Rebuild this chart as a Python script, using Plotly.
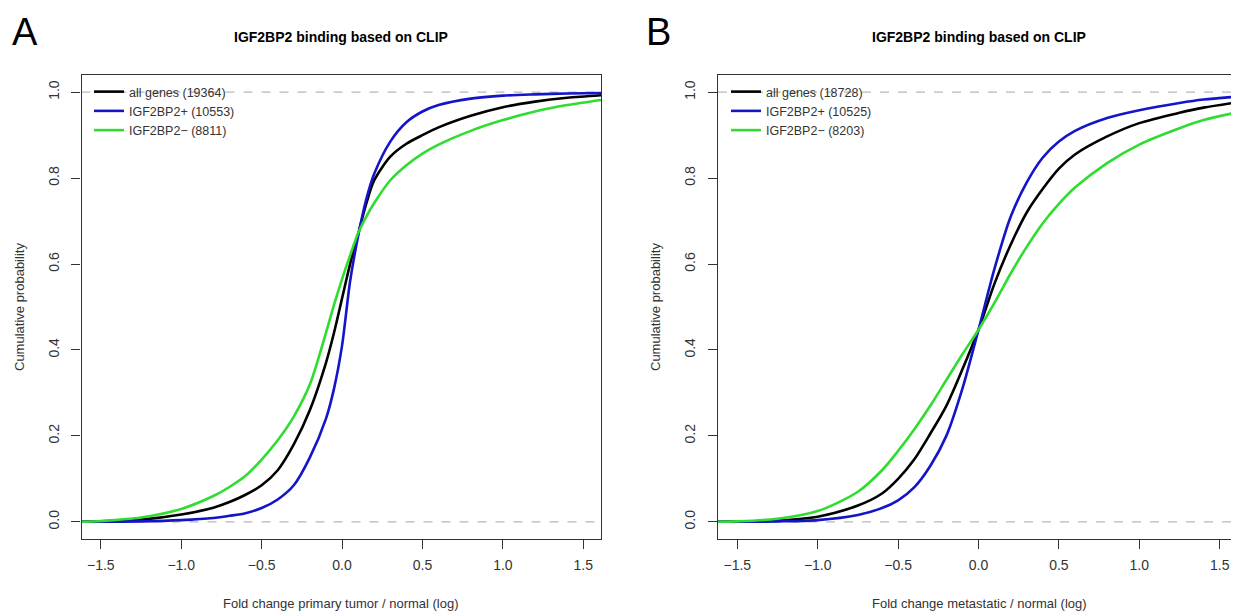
import plotly.graph_objects as go

# ---------------- data ----------------
x_a = [-1.62, -1.5, -1.25, -1.0, -0.8, -0.7, -0.6, -0.5, -0.4, -0.3, -0.2, -0.1, -0.05, 0.0,
       0.05, 0.1, 0.15, 0.2, 0.3, 0.4, 0.5, 0.6, 0.8, 1.0, 1.2, 1.4, 1.61]
all_a = [0, 0.001, 0.005, 0.017, 0.033, 0.046, 0.063, 0.085, 0.12, 0.18, 0.26, 0.37, 0.44, 0.52,
         0.6, 0.67, 0.74, 0.795, 0.85, 0.88, 0.9, 0.918, 0.945, 0.965, 0.978, 0.987, 0.993]
pos_a = [0, 0, 0.001, 0.004, 0.009, 0.014, 0.02, 0.032, 0.052, 0.085, 0.15, 0.24, 0.31, 0.41,
         0.56, 0.665, 0.75, 0.81, 0.885, 0.93, 0.955, 0.97, 0.985, 0.992, 0.995, 0.997, 0.998]
neg_a = [0, 0.002, 0.01, 0.03, 0.06, 0.081, 0.107, 0.145, 0.19, 0.245, 0.32, 0.44, 0.505, 0.565,
         0.62, 0.672, 0.71, 0.742, 0.795, 0.83, 0.857, 0.878, 0.91, 0.935, 0.955, 0.97, 0.982]

x_b = [-1.62, -1.5, -1.25, -1.0, -0.75, -0.6, -0.5, -0.4, -0.3, -0.2, -0.1, 0.0,
       0.1, 0.2, 0.3, 0.4, 0.5, 0.6, 0.8, 1.0, 1.25, 1.4, 1.62]
all_b = [0, 0.001, 0.003, 0.012, 0.038, 0.066, 0.1, 0.145, 0.205, 0.27, 0.355, 0.447,
         0.555, 0.645, 0.72, 0.775, 0.822, 0.855, 0.897, 0.928, 0.952, 0.964, 0.977]
pos_b = [0, 0, 0.001, 0.004, 0.016, 0.032, 0.05, 0.08, 0.13, 0.2, 0.31, 0.447,
         0.59, 0.71, 0.79, 0.848, 0.885, 0.91, 0.94, 0.958, 0.975, 0.983, 0.99]
neg_b = [0, 0.001, 0.007, 0.025, 0.07, 0.12, 0.165, 0.215, 0.27, 0.33, 0.39, 0.447,
         0.51, 0.578, 0.64, 0.695, 0.74, 0.778, 0.835, 0.878, 0.916, 0.935, 0.954]

labels_a = ["all genes (19364)", "IGF2BP2+ (10553)", "IGF2BP2\u2212 (8811)"]
labels_b = ["all genes (18728)", "IGF2BP2+ (10525)", "IGF2BP2\u2212 (8203)"]
colors = ["#000000", "#1414c8", "#2fdc2f"]

panel_title = "<b>IGF2BP2 binding based on CLIP</b>"
xtitle_a = "Fold change primary tumor / normal (log)"
xtitle_b = "Fold change metastatic / normal (log)"
ytitle = "Cumulative probability"
xticks = [-1.5, -1.0, -0.5, 0.0, 0.5, 1.0, 1.5]
yticks = [0.0, 0.2, 0.4, 0.6, 0.8, 1.0]

# ---------------- figure ----------------
OFF = 8                      # page body margin of the exported html
W, H = 1239 - OFF, 613 - OFF
FONT = "Liberation Sans, Arial, Helvetica, sans-serif"
fig = go.Figure()

for xs, ys_list, labs, xa, ya, leg in [
    (x_a, [all_a, pos_a, neg_a], labels_a, "x", "y", "legend"),
    (x_b, [all_b, pos_b, neg_b], labels_b, "x2", "y2", "legend2"),
]:
    for ys, lab, col in zip(ys_list, labs, colors):
        fig.add_trace(go.Scatter(
            x=xs, y=ys, mode="lines", name=lab,
            line=dict(color=col, width=2.6, shape="spline", smoothing=0.8),
            xaxis=xa, yaxis=ya, legend=leg,
        ))

px_x = lambda p: (p - OFF) / W
px_y = lambda p: 1 - (p - OFF) / H

dom_a = [px_x(81.5), px_x(601)]
dom_b = [px_x(718), 1.0]
dom_y = [px_y(539), px_y(75)]

axis_common = dict(
    showline=True, mirror=True, linecolor="#333333", linewidth=1.2,
    ticks="outside", ticklen=9, tickwidth=1.2, tickcolor="#333333",
    showgrid=False, zeroline=False,
    tickfont=dict(family=FONT, size=14, color="#333333"),
)

yr = [-0.04, 1.04]
xt_text = [f"{v:.1f}".replace("-", "\u2212") for v in xticks]
yt_text = [f"{v:.1f}" for v in yticks]

fig.update_layout(
    width=W, height=H,
    margin=dict(l=0, r=0, t=0, b=0),
    paper_bgcolor="white", plot_bgcolor="white",
    font=dict(family=FONT, color="#333333"),
    xaxis=dict(domain=dom_a, range=[-1.62, 1.61], tickvals=xticks, ticktext=xt_text,
               anchor="y", ticklabelstandoff=4, **axis_common),
    yaxis=dict(domain=dom_y, range=yr, tickvals=yticks, ticktext=yt_text, tickangle=-90,
               anchor="x", ticklabelstandoff=7, **axis_common),
    xaxis2=dict(domain=dom_b, range=[-1.62, 1.62], tickvals=xticks, ticktext=xt_text,
                anchor="y2", ticklabelstandoff=4, **axis_common),
    yaxis2=dict(domain=dom_y, range=yr, tickvals=yticks, ticktext=yt_text, tickangle=-90,
                anchor="x2", ticklabelstandoff=7, **axis_common),
    legend=dict(x=px_x(89), y=px_y(77), xanchor="left", yanchor="top",
                bgcolor="rgba(0,0,0,0)", font=dict(family=FONT, size=12.5, color="#333333"),
                tracegroupgap=0, itemwidth=30),
    legend2=dict(x=px_x(726), y=px_y(77), xanchor="left", yanchor="top",
                 bgcolor="rgba(0,0,0,0)", font=dict(family=FONT, size=12.5, color="#333333"),
                 tracegroupgap=0, itemwidth=30),
    showlegend=True,
)

# dashed reference lines at 0 and 1
for xref, yref in [("x domain", "y"), ("x2 domain", "y2")]:
    for yv in [0.0, 1.0]:
        fig.add_shape(type="line", xref=xref, yref=yref, x0=0, x1=1, y0=yv, y1=yv,
                      line=dict(color="#b8b8b8", width=1.2, dash="dash"), layer="below")

ann = []
# panel letters
ann.append(dict(text="A", x=px_x(10), y=px_y(32), xanchor="left", yanchor="middle",
                font=dict(family=FONT, size=38, color="black")))
ann.append(dict(text="B", x=px_x(644), y=px_y(32), xanchor="left", yanchor="middle",
                font=dict(family=FONT, size=38, color="black")))
# titles
for cx in [(81.5 + 601) / 2, (718 + 1240) / 2]:
    ann.append(dict(text=panel_title, x=px_x(cx), y=px_y(37), xanchor="center", yanchor="middle",
                    font=dict(family=FONT, size=14, color="black")))
# x titles
ann.append(dict(text=xtitle_a, x=px_x((81.5 + 601) / 2), y=px_y(603), xanchor="center",
                yanchor="middle", font=dict(family=FONT, size=13, color="#333333")))
ann.append(dict(text=xtitle_b, x=px_x((718 + 1240) / 2), y=px_y(603), xanchor="center",
                yanchor="middle", font=dict(family=FONT, size=13, color="#333333")))
# y titles
for xx in [20, 656]:
    ann.append(dict(text=ytitle, x=px_x(xx), y=px_y(307), xanchor="center", yanchor="middle",
                    textangle=-90, font=dict(family=FONT, size=13, color="#333333")))
for a in ann:
    a.update(xref="paper", yref="paper", showarrow=False)
fig.update_layout(annotations=ann)

fig.write_html("out.html")
